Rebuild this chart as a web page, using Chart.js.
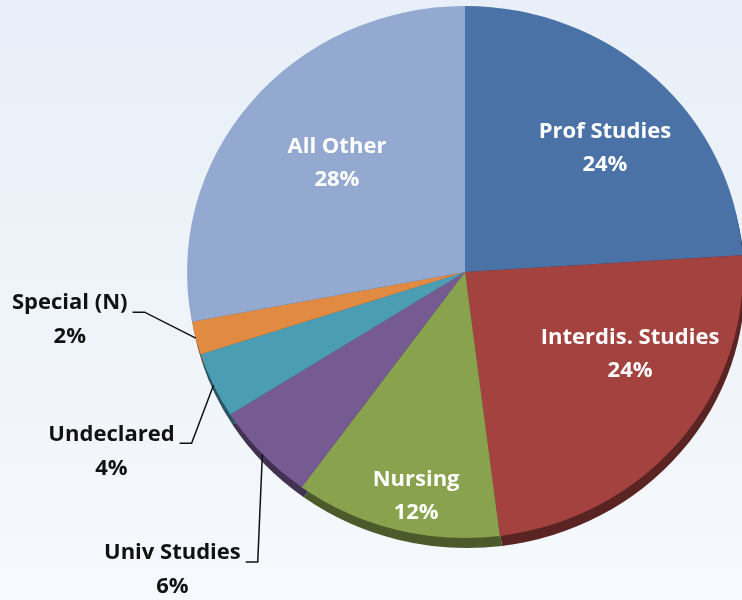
<!DOCTYPE html>
<html>
<head>
<meta charset="utf-8">
<script src="https://cdn.jsdelivr.net/npm/chart.js@4.4.1/dist/chart.umd.min.js"></script>
<style>
  html, body { margin: 0; padding: 0; }
  body {
    width: 742px; height: 600px; overflow: hidden;
    background: linear-gradient(180deg, #e8eff8 0%, #eef3f9 45%, #f6f9fd 100%);
  }
  canvas { display: block; }
</style>
</head>
<body>
<canvas id="majorsChart" width="742" height="600"></canvas>
<script>
// slices, clockwise from 12 o'clock
const categories = ['Prof Studies', 'Interdis. Studies', 'Nursing', 'Univ Studies', 'Undeclared', 'Special (N)', 'All Other'];
const shares = [24, 24, 12, 6, 4, 2, 28];
const sliceColors = ['#4a72a6', '#a3423f', '#88a24e', '#765b93', '#4a9db3', '#e08a42', '#93a9cf'];

const stretchX = 1.045;   // pie is a bit wider than tall in the original
const rimDepth = 10;
const labelFont = 'bold 22px "Open Sans"';

// where each label sits: inside ones by angle shift / radius fraction,
// outside ones by offset from the slice edge (with a leader line)
const labelPlace = [
  { inside: true, shift: 4, f: 0.686 },
  { inside: true, shift: -12, f: 0.67 },
  { inside: true, shift: -2.6, f: 0.86 },
  { dx: -90, dy: 99 },
  { dx: -102, dy: 49 },
  { dx: -126, dy: -35 },
  { inside: true, shift: 2, f: 0.616 }
];

function darken(hex, k) {
  const n = parseInt(hex.slice(1), 16);
  const r = Math.round(((n >> 16) & 255) * k);
  const g = Math.round(((n >> 8) & 255) * k);
  const b = Math.round((n & 255) * k);
  return `rgb(${r},${g},${b})`;
}

const pie3d = {
  id: 'pie3d',
  beforeDatasetsDraw(chart) {
    const ctx = chart.ctx;
    const arcs = chart.getDatasetMeta(0).data;
    const cx = arcs[0].x, cy = arcs[0].y;
    ctx.save();
    ctx.translate(cx, cy);
    ctx.scale(stretchX, 1);
    ctx.translate(-cx, -cy);
    // darker side of the disc
    arcs.forEach((a, i) => {
      ctx.beginPath();
      ctx.moveTo(a.x + 2, a.y + rimDepth);
      ctx.arc(a.x + 2, a.y + rimDepth, a.outerRadius, a.startAngle, a.endAngle);
      ctx.closePath();
      ctx.fillStyle = darken(sliceColors[i], 0.55);
      ctx.fill();
    });
  },
  afterDatasetsDraw(chart) {
    const ctx = chart.ctx;
    ctx.restore();
    const arcs = chart.getDatasetMeta(0).data;
    ctx.save();
    ctx.font = labelFont;
    ctx.textAlign = 'center';
    ctx.textBaseline = 'middle';
    arcs.forEach((a, i) => {
      const p = labelPlace[i];
      const mid = (a.startAngle + a.endAngle) / 2;
      const name = categories[i];
      const pct = shares[i] + '%';
      if (p.inside) {
        const ang = mid + p.shift * Math.PI / 180;
        const r = a.outerRadius * p.f;
        const x = a.x + stretchX * r * Math.cos(ang);
        const y = a.y + r * Math.sin(ang);
        ctx.fillStyle = '#ffffff';
        ctx.fillText(name, x, y - 16.5);
        ctx.fillText(pct, x, y + 16.5);
      } else {
        const ex = a.x + stretchX * a.outerRadius * Math.cos(mid);
        const ey = a.y + a.outerRadius * Math.sin(mid);
        const tx = ex + p.dx, ty = ey + p.dy;
        ctx.fillStyle = '#111111';
        ctx.fillText(name, tx, ty);
        ctx.fillText(pct, tx, ty + 34);
        const w = ctx.measureText(name).width;
        const sx = tx + w / 2 + 5, sy = ty + 9;
        ctx.beginPath();
        ctx.moveTo(sx, sy);
        ctx.lineTo(sx + 12, sy);
        ctx.lineTo(ex, ey);
        ctx.strokeStyle = '#111111';
        ctx.lineWidth = 1.5;
        ctx.stroke();
      }
    });
    ctx.restore();
  }
};

new Chart(document.getElementById('majorsChart'), {
  type: 'pie',
  data: {
    labels: categories,
    datasets: [{
      data: shares,
      backgroundColor: sliceColors,
      borderWidth: 0,
      hoverOffset: 0,
      clip: false
    }]
  },
  options: {
    responsive: false,
    animation: false,
    layout: { padding: { left: 199, right: 11, top: 6, bottom: 62 } },
    plugins: {
      legend: { display: false },
      tooltip: { enabled: false }
    }
  },
  plugins: [pie3d]
});
</script>
</body>
</html>
